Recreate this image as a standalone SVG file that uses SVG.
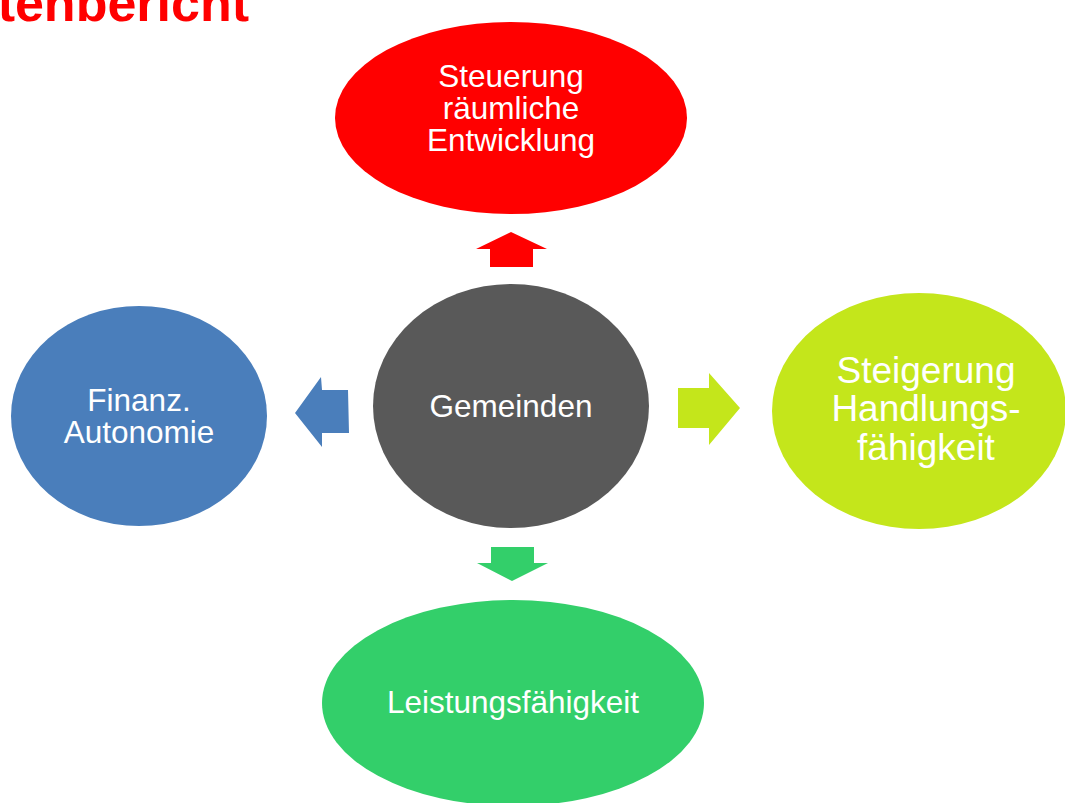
<svg xmlns="http://www.w3.org/2000/svg" width="1065" height="803" viewBox="0 0 1065 803">
<style>
.t{font-family:"Liberation Sans",Arial,sans-serif;fill:#fff;text-anchor:middle;font-size:31.5px}
.big{font-size:37px}
.title{font-family:"Liberation Sans",Arial,sans-serif;font-weight:bold;fill:#ff0000;font-size:52px;text-anchor:end}
</style>
<rect width="1065" height="803" fill="#fff"/>
<text class="title" x="249" y="21">tenbericht</text>
<g id="connectors">
<polygon points="511,232 547,249 533,249 533,267 490,267 490,249 476,249" fill="#ff0000"/>
<polygon points="295,413 321,377 322,390 348,390 349,433 322,433 322,447" fill="#4a7ebb"/>
<polygon points="740,408 709,373 709,388 678,388 678,428 709,428 709,445" fill="#c4e61b"/>
<polygon points="512,581 548,563 534,563 534,547 491,547 491,563 477,563" fill="#33cf6a"/>
</g>
<g id="node-steuerung">
<ellipse cx="511" cy="118" rx="176" ry="96" fill="#ff0000"/>
<text class="t" x="511" y="87">Steuerung</text>
<text class="t" x="511" y="119">räumliche</text>
<text class="t" x="511" y="151">Entwicklung</text>
</g>
<g id="node-gemeinden">
<ellipse cx="511" cy="406" rx="138" ry="122" fill="#595959"/>
<text class="t" x="511" y="417">Gemeinden</text>
</g>
<g id="node-finanz">
<ellipse cx="139" cy="416" rx="128" ry="110" fill="#4a7ebb"/>
<text class="t" x="139" y="411">Finanz.</text>
<text class="t" x="139" y="443">Autonomie</text>
</g>
<g id="node-steigerung">
<ellipse cx="919" cy="411" rx="147" ry="118" fill="#c4e61b"/>
<text class="t big" x="926" y="383">Steigerung</text>
<text class="t big" x="926" y="421">Handlungs-</text>
<text class="t big" x="926" y="460">fähigkeit</text>
</g>
<g id="node-leistung">
<ellipse cx="513" cy="703" rx="191" ry="103" fill="#33cf6a"/>
<text class="t" x="513" y="713">Leistungsfähigkeit</text>
</g>
</svg>
